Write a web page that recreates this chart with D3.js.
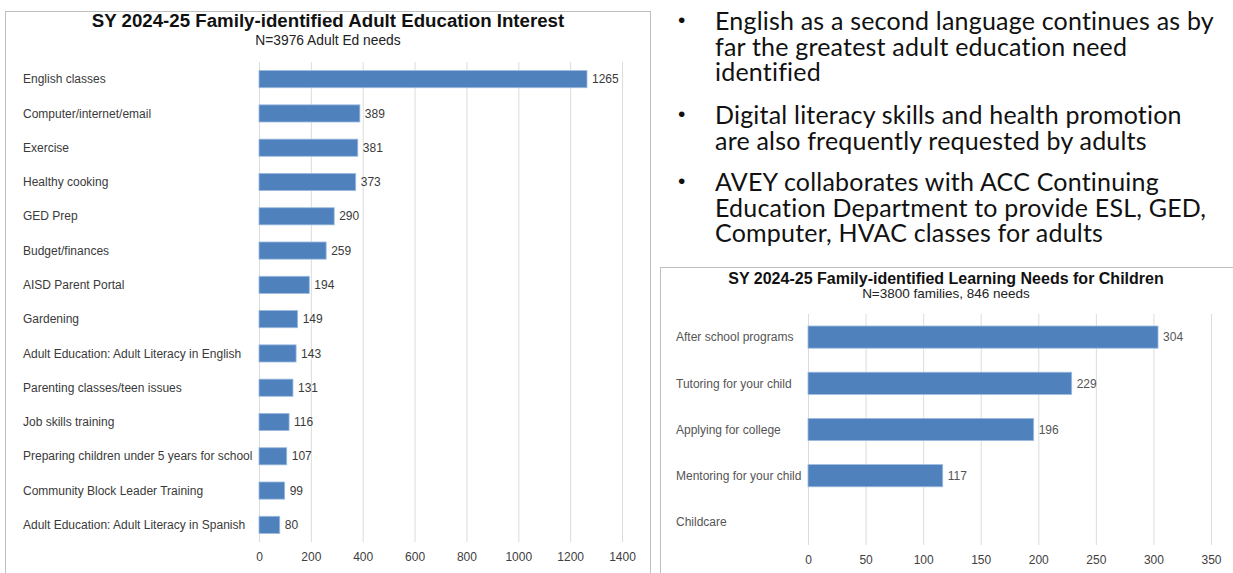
<!DOCTYPE html>
<html>
<head>
  <meta charset="utf-8">
  <title>Adult Education Interest</title>
  <script src="https://cdn.jsdelivr.net/npm/d3@7"></script>
  <style>
    body { margin: 0; background: #fff; }
    svg text { font-family: Arial, "Liberation Sans", sans-serif; }
    .lab { fill: #404040; font-size: 12px; }
    .val { fill: #404040; font-size: 12px; }
    .tick text { fill: #404040; font-size: 12px; }
    .grid line { stroke: #dcdcdc; }
    .bullet { font-family: Lato, "Open Sans", sans-serif !important; font-size: 25px; letter-spacing: 0.2px; fill: #111; }
    .dot { font-size: 21px; fill: #111; }
  </style>
</head>
<body>
<div id="vis"></div>
<script>
// adult education chart
var adultCats = ["English classes", "Computer/internet/email", "Exercise", "Healthy cooking",
  "GED Prep", "Budget/finances", "AISD Parent Portal", "Gardening",
  "Adult Education: Adult Literacy in English", "Parenting classes/teen issues",
  "Job skills training", "Preparing children under 5 years for school",
  "Community Block Leader Training", "Adult Education: Adult Literacy in Spanish"];
var adultVals = [1265, 389, 381, 373, 290, 259, 194, 149, 143, 131, 116, 107, 99, 80];
var adultTicks = [0, 200, 400, 600, 800, 1000, 1200, 1400];

// children chart
var childCats = ["After school programs", "Tutoring for your child", "Applying for college",
  "Mentoring for your child", "Childcare"];
var childVals = [304, 229, 196, 117, 0];
var childTicks = [0, 50, 100, 150, 200, 250, 300, 350];

var bullets = [
  ["English as a second language continues as by", "far the greatest adult education need", "identified"],
  ["Digital literacy skills and health promotion", "are also frequently requested by adults"],
  ["AVEY collaborates with ACC Continuing", "Education Department to provide ESL, GED,", "Computer, HVAC classes for adults"]
];

var svg = d3.select("#vis").append("svg")
  .attr("width", 1233)
  .attr("height", 573);

function barChart(o) {
  var g = svg.append("g");
  g.append("rect")
    .attr("x", o.box[0] + 0.5).attr("y", o.box[1] + 0.5)
    .attr("width", o.box[2]).attr("height", o.box[3])
    .attr("fill", "#fff").attr("stroke", "#bfbfbf");

  g.append("text")
    .attr("x", o.cx).attr("y", o.titleY)
    .attr("text-anchor", "middle")
    .style("font-weight", "bold").style("font-size", o.titleSize + "px")
    .attr("fill", "#111")
    .text(o.title);
  g.append("text")
    .attr("x", o.cx).attr("y", o.subY)
    .attr("text-anchor", "middle")
    .style("font-size", o.subSize + "px").attr("fill", "#222")
    .text(o.sub);

  var x = d3.scaleLinear()
    .domain([0, o.ticks[o.ticks.length - 1]])
    .range([o.x0, o.x1]);
  var y = d3.scaleBand()
    .domain(o.cats)
    .range([o.y0, o.y1])
    .paddingInner(o.pad).paddingOuter(o.pad / 2);

  g.append("g")
    .attr("class", "grid")
    .attr("transform", "translate(0," + o.y1 + ")")
    .call(d3.axisBottom(x).tickValues(o.ticks).tickSize(-(o.y1 - o.y0)).tickFormat(""))
    .call(function(s) { s.select(".domain").remove(); });

  g.append("g")
    .attr("transform", "translate(0," + (o.y1 + 4) + ")")
    .call(d3.axisBottom(x).tickValues(o.ticks).tickSize(0).tickPadding(6).tickFormat(d3.format("d")))
    .call(function(s) {
      s.select(".domain").remove();
      s.selectAll("text").style("font-family", "Arial, 'Liberation Sans', sans-serif").attr("fill", o.labColor);
    });

  var data = o.cats.map(function(c, i) { return { cat: c, v: o.vals[i] }; });

  g.selectAll(".bar").data(data.filter(function(d) { return d.v > 0; })).enter().append("rect")
    .attr("class", "bar")
    .attr("x", x(0))
    .attr("y", function(d) { return y(d.cat); })
    .attr("width", function(d) { return x(d.v) - x(0); })
    .attr("height", y.bandwidth())
    .attr("fill", "#4f81bd")
    .attr("stroke", "#9dbbe0").attr("stroke-width", 0.8);

  g.selectAll(".lab").data(data).enter().append("text")
    .attr("class", "lab")
    .attr("x", o.labX)
    .attr("y", function(d) { return y(d.cat) + y.bandwidth() / 2; })
    .attr("dy", "0.35em")
    .style("fill", o.labColor)
    .text(function(d) { return d.cat; });

  g.selectAll(".val").data(data.filter(function(d) { return d.v > 0; })).enter().append("text")
    .attr("class", "val")
    .attr("x", function(d) { return x(d.v) + 5; })
    .attr("y", function(d) { return y(d.cat) + y.bandwidth() / 2; })
    .attr("dy", "0.35em")
    .style("fill", o.labColor)
    .text(function(d) { return d.v; });
}

barChart({
  box: [5, 11, 645, 570], cx: 328, titleY: 27, titleSize: 18.7, subY: 45, subSize: 13.8,
  title: "SY 2024-25 Family-identified Adult Education Interest",
  sub: "N=3976 Adult Ed needs",
  cats: adultCats, vals: adultVals, ticks: adultTicks, labColor: "#3a3a3a",
  x0: 259, x1: 622, y0: 62, y1: 542, pad: 0.5, labX: 23
});

barChart({
  box: [660, 267, 580, 320], cx: 946, titleY: 284, titleSize: 16, subY: 298, subSize: 13.5,
  title: "SY 2024-25 Family-identified Learning Needs for Children",
  sub: "N=3800 families, 846 needs",
  cats: childCats, vals: childVals, ticks: childTicks, labColor: "#555",
  x0: 808, x1: 1211, y0: 314, y1: 545, pad: 0.52, labX: 676
});

// bullet text on the right
var lineH = 25.5;
var startY = [30, 124, 191];
bullets.forEach(function(b, i) {
  svg.append("text")
    .attr("class", "dot")
    .attr("x", 678).attr("y", startY[i] - 3)
    .text("\u2022");
  b.forEach(function(line, j) {
    svg.append("text")
      .attr("class", "bullet")
      .attr("x", 715).attr("y", startY[i] + j * lineH)
      .text(line);
  });
});
</script>
</body>
</html>
